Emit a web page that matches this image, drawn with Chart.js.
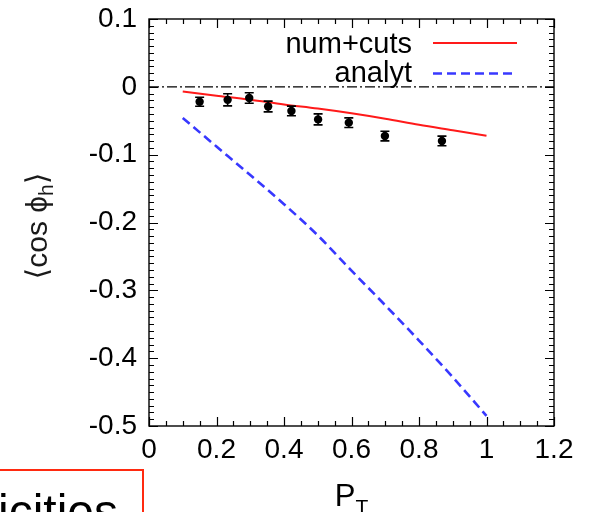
<!DOCTYPE html>
<html>
<head>
<meta charset="utf-8">
<script src="https://cdn.jsdelivr.net/npm/chart.js@4/dist/chart.umd.min.js"></script>
<style>
html,body{margin:0;padding:0;background:#fff;overflow:hidden;width:592px;height:512px;}
#wrap{position:relative;width:592px;height:512px;overflow:hidden;}
#c{position:absolute;left:0;top:0;}
#note{position:absolute;left:-10px;top:469px;width:154px;height:70px;border:2px solid #ff2a10;box-sizing:border-box;overflow:hidden;}
#note span{position:absolute;left:6px;top:17px;font-family:"Liberation Sans",Arial,sans-serif;font-size:48px;line-height:1;color:#000;white-space:nowrap;}
</style>
</head>
<body>
<div id="wrap">
<canvas id="c" width="592" height="512"></canvas>
<div id="note"><span>icities</span></div>
</div>
<script>
// ---- data ----
const xTickValues = [0, 0.2, 0.4, 0.6, 0.8, 1, 1.2];
const xTickLabels = ["0", "0.2", "0.4", "0.6", "0.8", "1", "1.2"];
const yTickValues = [0.1, 0, -0.1, -0.2, -0.3, -0.4, -0.5];
const yTickLabels = ["0.1", "0", "-0.1", "-0.2", "-0.3", "-0.4", "-0.5"];

const curveX    = [0.1, 0.2, 0.3, 0.4, 0.5, 0.6, 0.7, 0.8, 0.9, 1.0];
const numCutsY  = [-0.007, -0.013, -0.019, -0.026, -0.032, -0.039, -0.047, -0.056, -0.064, -0.072];
const analytY   = [-0.046, -0.088, -0.130, -0.173, -0.219, -0.271, -0.322, -0.374, -0.428, -0.485];

const dataX   = [0.150, 0.233, 0.297, 0.353, 0.422, 0.501, 0.592, 0.699, 0.868];
const dataY   = [-0.022, -0.0192, -0.0164, -0.029, -0.0356, -0.048, -0.0528, -0.0725, -0.0798];
const dataErr = [0.0066, 0.0089, 0.0077, 0.0079, 0.0071, 0.0081, 0.0071, 0.0071, 0.0071];

const zeroX = [0, 1.2];
const zeroY = [0, 0];

const seriesLabels = ["num+cuts", "analyt"];
const xTitle = ["P", "T"];
const yTitle = ["\u27E8cos \u03D5", "h", "\u27E9"];

const FONT = '"Liberation Sans", "DejaVu Sans", Arial, sans-serif';

const pts = (xs, ys) => xs.map((x, i) => ({x: x, y: ys[i]}));

// ---- plugins ----
const framePlugin = {
  id: 'frame',
  afterDatasetsDraw(chart) {
    const {ctx, chartArea: a, scales: {x, y}} = chart;
    ctx.save();
    ctx.strokeStyle = '#000';
    ctx.lineWidth = 1.4;
    ctx.strokeRect(a.left, a.top, a.right - a.left, a.bottom - a.top);
    ctx.lineWidth = 1.2;
    ctx.beginPath();
    for (let i = 0; i <= 24; i++) {
      const v = i * 0.05;
      const px = Math.round(x.getPixelForValue(v)) + 0.5;
      const len = (i % 4 === 0) ? 9 : 5;
      ctx.moveTo(px, a.bottom); ctx.lineTo(px, a.bottom - len);
      ctx.moveTo(px, a.top); ctx.lineTo(px, a.top + len);
    }
    for (let i = 0; i <= 60; i++) {
      const v = -0.5 + i * 0.01;
      const py = Math.round(y.getPixelForValue(v)) + 0.5;
      const len = (i % 10 === 0) ? 9 : 5;
      ctx.moveTo(a.left, py); ctx.lineTo(a.left + len, py);
      ctx.moveTo(a.right, py); ctx.lineTo(a.right - len, py);
    }
    ctx.stroke();
    ctx.restore();
  }
};

const errorBarPlugin = {
  id: 'errbars',
  afterDatasetsDraw(chart) {
    const {ctx, scales: {x, y}} = chart;
    ctx.save();
    ctx.strokeStyle = '#000';
    ctx.lineWidth = 1.6;
    ctx.beginPath();
    dataX.forEach((xv, i) => {
      const px = x.getPixelForValue(xv);
      const y1 = y.getPixelForValue(dataY[i] + dataErr[i]);
      const y2 = y.getPixelForValue(dataY[i] - dataErr[i]);
      ctx.moveTo(px, y1); ctx.lineTo(px, y2);
      ctx.moveTo(px - 4.5, y1); ctx.lineTo(px + 4.5, y1);
      ctx.moveTo(px - 4.5, y2); ctx.lineTo(px + 4.5, y2);
    });
    ctx.stroke();
    ctx.restore();
  }
};

const legendPlugin = {
  id: 'innerLegend',
  afterDraw(chart) {
    const {ctx, chartArea: a} = chart;
    const ds = chart.data.datasets;
    const items = [ds[1], ds[2]];
    const baselines = [a.top + 34, a.top + 63];
    const lineYs = [a.top + 24, a.top + 54.5];
    ctx.save();
    items.forEach((d, i) => {
      ctx.font = '29px ' + FONT;
      ctx.fillStyle = '#000';
      ctx.textAlign = 'right';
      ctx.textBaseline = 'alphabetic';
      ctx.fillText(d.label, a.right - 142, baselines[i]);
      ctx.strokeStyle = d.borderColor;
      ctx.lineWidth = d.borderWidth;
      ctx.setLineDash(d.borderDash || []);
      ctx.beginPath();
      ctx.moveTo(a.right - 121, lineYs[i]);
      ctx.lineTo(a.right - 37, lineYs[i]);
      ctx.stroke();
    });
    ctx.restore();
  }
};

const titlePlugin = {
  id: 'axisTitles',
  afterDraw(chart) {
    const {ctx, chartArea: a} = chart;
    ctx.save();
    ctx.fillStyle = '#000';
    ctx.textBaseline = 'alphabetic';
    ctx.textAlign = 'left';
    const fMain = '31px ' + FONT, fSub = '21px ' + FONT;
    ctx.font = fMain; const wP = ctx.measureText(xTitle[0]).width;
    ctx.font = fSub; const wT = ctx.measureText(xTitle[1]).width;
    const cx = (a.left + a.right) / 2;
    let sx = cx - (wP + wT) / 2;
    ctx.font = fMain; ctx.fillText(xTitle[0], sx, a.bottom + 80);
    ctx.font = fSub; ctx.fillText(xTitle[1], sx + wP, a.bottom + 88);
    const yMain = '30px ' + FONT, ySub = '21px ' + FONT;
    ctx.font = yMain; const w1 = ctx.measureText(yTitle[0]).width;
    ctx.font = ySub; const w2 = ctx.measureText(yTitle[1]).width;
    ctx.font = yMain; const w3 = ctx.measureText(yTitle[2]).width;
    const total = w1 + w2 + w3;
    ctx.translate(47, 226);
    ctx.rotate(-Math.PI / 2);
    let tx = -total / 2;
    ctx.fillStyle = '#1a1a1a';
    ctx.font = yMain; ctx.fillText(yTitle[0], tx, 0);
    ctx.font = ySub; ctx.fillText(yTitle[1], tx + w1, 6);
    ctx.font = yMain; ctx.fillText(yTitle[2], tx + w1 + w2, 0);
    ctx.restore();
  }
};

new Chart(document.getElementById('c'), {
  type: 'scatter',
  data: {
    datasets: [
      {label: 'zero', data: pts(zeroX, zeroY), showLine: true, borderColor: '#000', borderWidth: 1.3,
       borderDash: [10, 3, 2, 3], pointRadius: 0, order: 4},
      {label: seriesLabels[0], data: pts(curveX, numCutsY), showLine: true, borderColor: '#ff1a1a', borderWidth: 2,
       pointRadius: 0, cubicInterpolationMode: 'monotone', order: 3},
      {label: seriesLabels[1], data: pts(curveX, analytY), showLine: true, borderColor: '#3838ff', borderWidth: 2.6,
       borderDash: [9, 5], pointRadius: 0, cubicInterpolationMode: 'monotone', order: 2},
      {label: 'data', data: pts(dataX, dataY), showLine: false, pointRadius: 4.2, pointBackgroundColor: '#000',
       pointBorderColor: '#000', pointBorderWidth: 0, order: 1}
    ]
  },
  options: {
    responsive: false,
    animation: false,
    events: [],
    layout: {padding: {left: 0, right: 38, top: 19, bottom: 0}},
    plugins: {legend: {display: false}, tooltip: {enabled: false}},
    scales: {
      x: {
        type: 'linear', min: 0, max: 1.2,
        afterBuildTicks: s => { s.ticks = xTickValues.map(v => ({value: v})); },
        afterFit: s => { s.height = 86; s.paddingLeft = 0; s.paddingRight = 0; },
        grid: {display: false, drawTicks: false},
        border: {display: false},
        ticks: {
          callback: (v, i) => xTickLabels[i],
          font: {family: FONT, size: 28}, color: '#000', padding: 7, maxRotation: 0, autoSkip: false
        }
      },
      y: {
        type: 'linear', min: -0.5, max: 0.1,
        afterBuildTicks: s => { s.ticks = yTickValues.slice().reverse().map(v => ({value: v})); },
        afterFit: s => { s.width = 149; s.paddingTop = 0; s.paddingBottom = 0; },
        grid: {display: false, drawTicks: false},
        border: {display: false},
        ticks: {
          callback: (v, i, t) => yTickLabels[yTickValues.indexOf(t[i].value)],
          font: {family: FONT, size: 28}, color: '#000', padding: 12, autoSkip: false
        }
      }
    }
  },
  plugins: [framePlugin, errorBarPlugin, legendPlugin, titlePlugin]
});
</script>
</body>
</html>
